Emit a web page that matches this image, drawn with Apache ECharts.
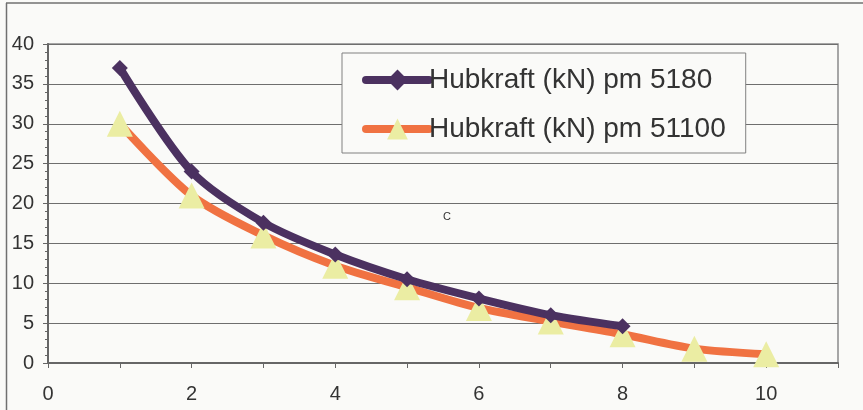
<!DOCTYPE html>
<html>
<head>
<meta charset="utf-8">
<script src="https://cdn.jsdelivr.net/npm/echarts@6/dist/echarts.min.js"></script>
<style>
html,body{margin:0;padding:0;background:#fafaf8;}
#c{width:863px;height:410px;}
</style>
</head>
<body>
<div id="c"></div>
<script>
var seriesNames = ['Hubkraft (kN) pm 5180', 'Hubkraft (kN) pm 51100'];
var xValues1 = [1, 2, 3, 4, 5, 6, 7, 8];
var values1 = [37, 24, 17.6, 13.6, 10.5, 8.1, 6.0, 4.6];
var xValues2 = [1, 2, 3, 4, 5, 6, 7, 8, 9, 10];
var values2 = [30, 21, 16, 12.2, 9.5, 6.9, 5.2, 3.6, 1.8, 1.1];
var xTickLabels = ['0', '2', '4', '6', '8', '10'];
var annotation = 'C';

var chart = echarts.init(document.getElementById('c'), null, {renderer: 'canvas'});
var font = 'Liberation Sans, Arial, sans-serif';
function pairs(xs, ys) { return xs.map(function (x, i) { return [x, ys[i]]; }); }

chart.setOption({
  backgroundColor: '#fafaf8',
  animation: false,
  textStyle: {fontFamily: font},
  grid: {
    left: 48, right: 25, top: 44, bottom: 47,
    show: true, borderColor: '#8a8a8a', borderWidth: 1.5, backgroundColor: 'transparent'
  },
  xAxis: {
    type: 'value', min: 0, max: 11, interval: 1,
    axisLine: {show: true, onZero: false, lineStyle: {color: '#666', width: 2}},
    axisTick: {show: true, length: 5, lineStyle: {color: '#666', width: 1}},
    axisLabel: {
      margin: 21, fontSize: 20, color: '#333', fontFamily: font,
      formatter: function (v) { var s = String(v); return xTickLabels.indexOf(s) >= 0 ? s : ''; }
    },
    splitLine: {show: false}
  },
  yAxis: {
    type: 'value', min: 0, max: 40, interval: 5,
    axisLine: {show: true, lineStyle: {color: '#666', width: 2}},
    axisTick: {show: true, length: 5, lineStyle: {color: '#666', width: 1}},
    minorTick: {show: true, splitNumber: 5, length: 3, lineStyle: {color: '#666', width: 1}},
    axisLabel: {margin: 14, fontSize: 20, color: '#333', fontFamily: font},
    splitLine: {show: true, lineStyle: {color: '#6e6e6e', width: 1}}
  },
  legend: {
    orient: 'vertical', left: 342, top: 53,
    backgroundColor: '#fafaf8', borderColor: '#808080', borderWidth: 1,
    padding: [12, 20, 9, 20],
    itemWidth: 63, itemHeight: 26, itemGap: 19,
    textStyle: {fontSize: 28, color: '#333', fontFamily: font, lineHeight: 30, padding: [0, 0, 0, -5]},
    data: [
      {name: seriesNames[0], lineStyle: {width: 8, cap: 'round', color: '#4b3160'}},
      {name: seriesNames[1], lineStyle: {width: 8, cap: 'round', color: '#f07242'}}
    ]
  },
  series: [
    {
      name: seriesNames[0], type: 'line', smooth: 0.3,
      data: pairs(xValues1, values1),
      symbol: 'diamond', symbolSize: 16,
      lineStyle: {color: '#4b3160', width: 8},
      itemStyle: {color: '#4b3160'},
      z: 3
    },
    {
      name: seriesNames[1], type: 'line', smooth: 0.3,
      data: pairs(xValues2, values2),
      symbol: 'triangle', symbolSize: 26,
      lineStyle: {color: '#f07242', width: 8},
      itemStyle: {color: '#ebeda3'},
      z: 2
    }
  ],
  graphic: [
    {type: 'line', shape: {x1: 6, y1: 3, x2: 863, y2: 3}, style: {stroke: '#707070', lineWidth: 1.5}},
    {type: 'line', shape: {x1: 6.5, y1: 3, x2: 6.5, y2: 410}, style: {stroke: '#707070', lineWidth: 1.5}},
    {type: 'text', left: 443, top: 211, style: {text: annotation, fontSize: 11, fill: '#333', font: '11px ' + font}}
  ]
});
</script>
</body>
</html>
